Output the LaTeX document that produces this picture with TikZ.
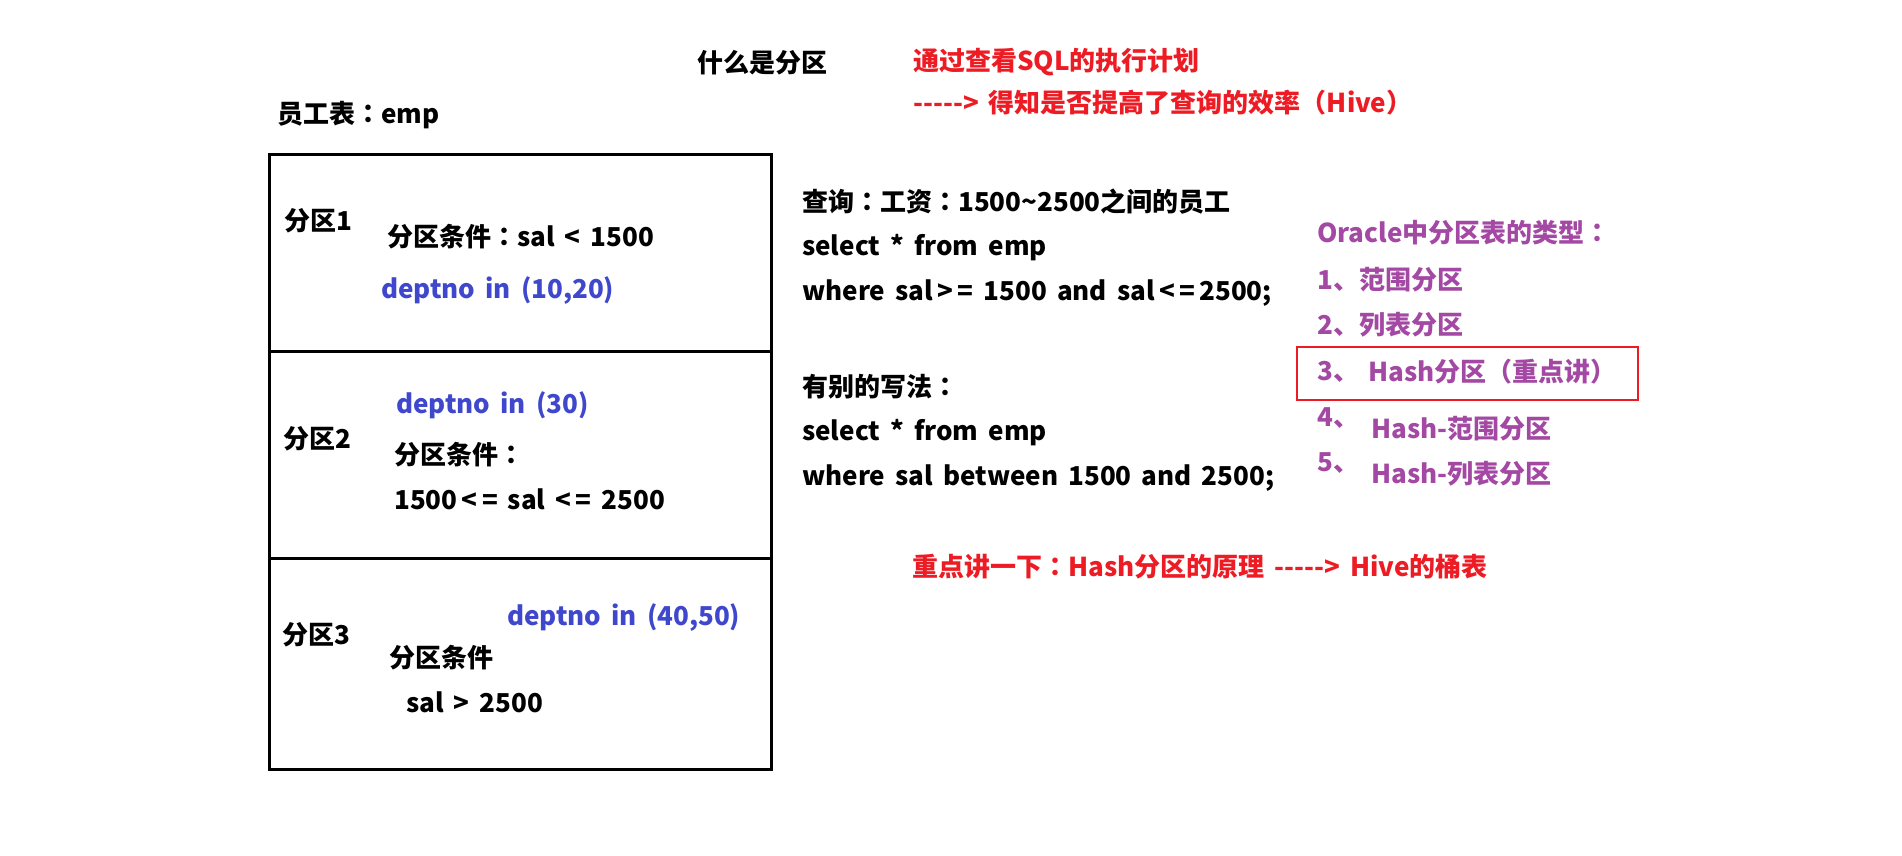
\documentclass[tikz,border=0pt]{standalone}
\usepackage{fontspec}
\setmainfont{Noto Sans CJK SC}[WordSpace=1.7]
\newfontfamily\tcfont{Noto Sans CJK TC}
\newcommand{\zhc}{{\tcfont ：}}
\newcommand{\zhl}{{\tcfont （}}
\newcommand{\zhr}{{\tcfont ）}}
\usepackage{xcolor}
\definecolor{pred}{RGB}{237,28,36}
\definecolor{pblue}{RGB}{63,72,204}
\definecolor{ppurple}{RGB}{163,73,164}
\usetikzlibrary{positioning}

\begin{document}
\begin{tikzpicture}[x=1pt,y=-1pt,font=\fontsize{26}{30}\selectfont\bfseries,
  every node/.style={anchor=west,inner sep=0pt}]
  \useasboundingbox (0,0) rectangle (1902,855);
  % Titles
  \node (title) at (697,63) {什么是分区};
  \node (emp) at (277,115) {员工表\zhc emp};
  \node[text=pred] (plan) at (913,62) {通过查看SQL的执行计划};
  \node[text=pred] (eff) at (913,103) {-{}-{}-{}-{}-> 得知是否提高了查询的效率\zhl Hive\zhr};
  % Table emp with three partitions
  \draw[line width=3pt] (269,154) rectangle (771,769);
  \draw[line width=3pt] (269,351) -- (771,351);
  \draw[line width=3pt] (269,558) -- (771,558);
  \node (p1) at (284,221) {分区1};
  \node (c1) at (387,237) {分区条件\zhc sal < 1500};
  \node[text=pblue] (d1) at (381,291) {deptno in (10,20)};
  \node[text=pblue] (d2) at (396,405) {deptno in (30)};
  \node (p2) at (283,439) {分区2};
  \node (c2) at (394,455) {分区条件\zhc};
  \node (c2b) at (394,499) {1500\,<\,= sal <\,= 2500};
  \node (p3) at (282,635) {分区3};
  \node[text=pblue] (d3) at (507,618) {deptno in (40,50)};
  \node (c3) at (389,658) {分区条件};
  \node (c3b) at (406,702) {sal > 2500};
  % Query
  \node (q1) at (802,202) {查询\zhc 工资\zhc 1500\textasciitilde 2500之间的员工};
  \node (q2) at (802,248) {select * from emp};
  \node (q3) at (802,293) {where sal\,>\,= 1500 and sal\,<\,=\,2500;};
  \node (q4) at (802,387) {有别的写法\zhc};
  \node (q5) at (802,433) {select * from emp};
  \node (q6) at (802,478) {where sal between 1500 and 2500;};
  % Oracle partition types
  \node[text=ppurple] (ora) at (1317,233) {Oracle中分区表的类型\zhc};
  \node[text=ppurple] (t1) at (1317,280) {1、范围分区};
  \node[text=ppurple] (t2) at (1317,325) {2、列表分区};
  \node[text=ppurple] (t3) at (1317,372) {3、};
  \node[text=ppurple] (t3b) at (1368,372) {Hash分区\zhl 重点讲\zhr};
  \draw[pred,line width=2.5pt] (1297,347) rectangle (1638,400);
  \node[text=ppurple] (t4) at (1317,418) {4、};
  \node[text=ppurple] (t4b) at (1371,429) {Hash-范围分区};
  \node[text=ppurple] (t5) at (1317,463) {5、};
  \node[text=ppurple] (t5b) at (1371,474) {Hash-列表分区};
  % Hash -> Hive
  \node[text=pred] (hash) at (912,567) {重点讲一下\zhc Hash分区的原理 -{}-{}-{}-{}-> Hive的桶表};
\end{tikzpicture}
\end{document}
